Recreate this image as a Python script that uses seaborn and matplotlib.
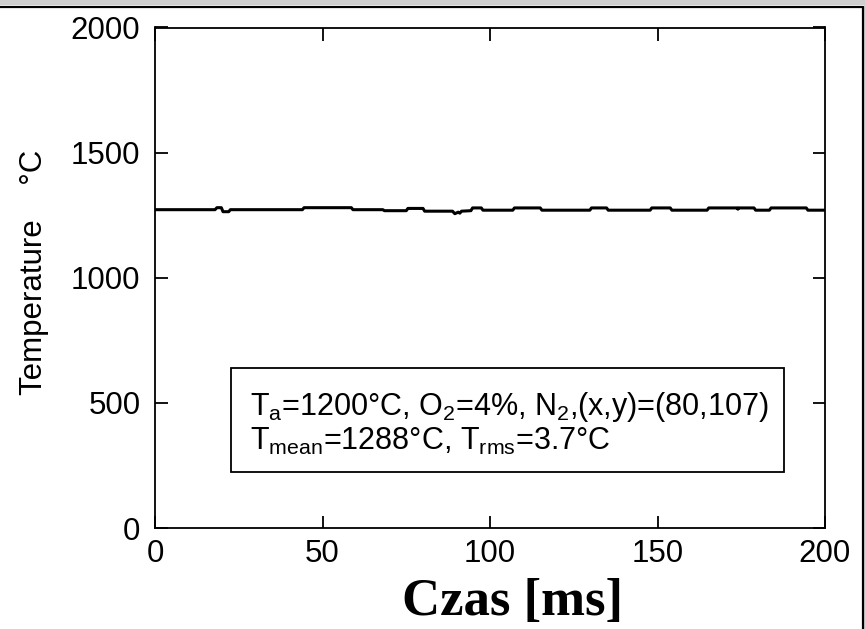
import matplotlib
matplotlib.use("Agg")
import matplotlib.pyplot as plt
import seaborn as sns
import pandas as pd
from matplotlib.lines import Line2D
from matplotlib.patches import Rectangle

# ---- data ----
time_ms = [0, 17.9, 18.5, 19.8, 20.3, 22.0, 22.5, 44.0, 44.5, 58.6, 59.1, 68.0, 68.5,
           75.0, 75.5, 80.0, 80.5, 88.8, 89.5, 90.5, 91.0, 91.5, 94.3, 94.8, 97.4, 97.9,
           106.8, 107.3, 115.0, 115.5, 129.8, 130.3, 134.8, 135.3, 147.8, 148.3, 153.8,
           154.3, 164.8, 165.3, 173.8, 174.0, 174.2, 178.8, 179.3, 183.4, 183.9, 194.4,
           194.9, 200.0]
temp_c = [1272, 1272, 1280, 1280, 1264, 1264, 1272, 1272, 1280, 1280, 1272, 1272, 1268,
          1268, 1277, 1277, 1266, 1266, 1256, 1262, 1258, 1266, 1268, 1279, 1279, 1270,
          1270, 1279, 1279, 1270, 1270, 1279, 1279, 1270, 1270, 1279, 1279,
          1270, 1270, 1279, 1279, 1274, 1279, 1279, 1270, 1270, 1279, 1279,
          1270, 1270]
x_ticks = [0, 50, 100, 150, 200]
y_ticks = [0, 500, 1000, 1500, 2000]
x_label = "Czas [ms]"
y_label = "Temperature    °C"
info_lines = [r"T$_\mathrm{a}$=1200°C, O$_2$=4%, N$_2$,(x,y)=(80,107)",
              r"T$_\mathrm{mean}$=1288°C, T$_\mathrm{rms}$=3.7°C"]

sns.set_theme(style="white")
plt.rcParams["font.family"] = ["Liberation Sans", "DejaVu Sans"]
plt.rcParams["mathtext.fontset"] = "custom"
plt.rcParams["mathtext.rm"] = "Liberation Sans"
plt.rcParams["mathtext.it"] = "Liberation Sans:italic"
plt.rcParams["mathtext.bf"] = "Liberation Sans:bold"
plt.rcParams["text.color"] = "black"
plt.rcParams["axes.labelcolor"] = "black"
plt.rcParams["xtick.color"] = "black"
plt.rcParams["ytick.color"] = "black"

W, H = 865, 629
fig = plt.figure(figsize=(W / 100, H / 100), dpi=100)
fig.patch.set_facecolor("white")
ax = fig.add_axes([155 / W, 1 - 528 / H, 670 / W, 500.5 / H])

df = pd.DataFrame({"t": time_ms, "T": temp_c})
sns.lineplot(data=df, x="t", y="T", ax=ax, color="black", linewidth=2.2,
             estimator=None, sort=False)

ax.set_xlim(0, 200)
ax.set_ylim(0, 2000)
ax.set_xticks(x_ticks)
ax.set_yticks(y_ticks)
ax.tick_params(direction="in", length=9, width=1.3, colors="black",
               labelsize=22.5, top=True, right=True, bottom=True, left=True)
ax.tick_params(axis="y", pad=10.5)
ax.tick_params(axis="x", pad=8)
for s in ax.spines.values():
    s.set_visible(True)
    s.set_color("black")
    s.set_linewidth(1.3)

ax.set_xlabel(x_label, fontsize=38, fontweight="bold", family="Liberation Serif",
              color="black")
ax.xaxis.set_label_coords(0.533, -0.1)
ax.set_ylabel(y_label, fontsize=22.5, color="black")
ax.yaxis.set_label_coords(-0.158, 0.51)

# info box
ax.add_patch(Rectangle((22.7, 224), 165, 416, transform=ax.transData,
                       fill=False, edgecolor="black", linewidth=1.3, zorder=5))
ax.text(28.5, 452, info_lines[0], fontsize=22, va="baseline", ha="left", zorder=6)
ax.text(28.5, 312, info_lines[1], fontsize=22, va="baseline", ha="left", zorder=6)

# outer frame (top band + right border)
fig.add_artist(Rectangle((0, 1 - 5 / H), 1, 5 / H, transform=fig.transFigure,
                         facecolor="#cfcfcf", edgecolor="none"))
fig.add_artist(Line2D([0, 862.5 / W], [1 - 6.5 / H] * 2, transform=fig.transFigure,
                      color="black", linewidth=1.6))
fig.add_artist(Line2D([862.5 / W] * 2, [0, 1 - 6.5 / H], transform=fig.transFigure,
                      color="black", linewidth=1.6))
fig.add_artist(Rectangle((863.5 / W, 0), 1.5 / W, 1, transform=fig.transFigure,
                         facecolor="#cfcfcf", edgecolor="none"))

fig.savefig("out.png", dpi=100)
